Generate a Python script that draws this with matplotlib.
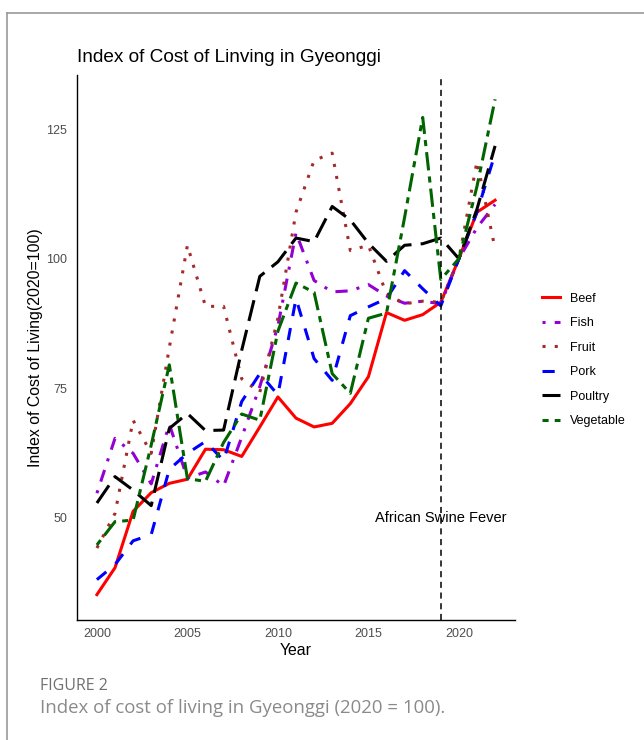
import matplotlib.pyplot as plt
from matplotlib.lines import Line2D

years = list(range(2000, 2023))
beef = [35.1, 40.3, 51.2, 54.8, 56.6, 57.4, 63.2, 63.1, 61.8, 67.5, 73.3, 69.2, 67.5,
        68.2, 72.0, 77.2, 89.6, 88.1, 89.2, 91.6, 100.0, 109.0, 111.3]
fish = [54.7, 65.3, 62.4, 56.5, 68.0, 57.6, 58.8, 56.1, 65.5, 75.3, 87.0, 105.0, 95.8,
        93.6, 93.8, 95.0, 92.8, 91.4, 91.8, 91.3, 100.0, 106.0, 110.5]
fruit = [44.1, 50.8, 68.8, 62.4, 82.8, 102.6, 90.8, 90.8, 76.8, 74.2, 88.5, 109.0, 119.0,
         120.4, 101.6, 102.6, 93.2, 91.3, 91.8, 91.6, 100.0, 118.8, 101.9]
pork = [38.0, 40.9, 45.5, 46.7, 59.3, 62.4, 64.7, 61.0, 72.4, 77.8, 73.7, 92.3, 80.7,
        76.5, 89.0, 90.7, 92.3, 97.7, 94.2, 90.9, 100.0, 109.0, 120.3]
poultry = [52.8, 57.9, 55.3, 52.3, 67.2, 70.1, 66.8, 66.9, 82.3, 96.6, 99.4, 104.0, 103.3,
           110.1, 107.5, 103.0, 99.5, 102.6, 102.9, 104.0, 100.0, 109.6, 121.8]
vegetable = [44.7, 49.2, 49.5, 64.0, 79.5, 57.5, 57.0, 64.5, 70.0, 68.8, 86.0, 95.3, 93.5,
             77.8, 74.0, 88.5, 89.5, 108.0, 127.3, 96.0, 100.0, 114.0, 130.8]

series_names = ["Beef", "Fish", "Fruit", "Pork", "Poultry", "Vegetable"]
x_ticks = [2000, 2005, 2010, 2015, 2020]
y_ticks = [50, 75, 100, 125]
event_year = 2019
event_label = "African Swine Fever"

plt.rcParams["font.family"] = ["Liberation Sans", "DejaVu Sans"]

styles = {
    "Beef": ("#FF0000", "-"),
    "Fish": ("#9400D3", (0, (1, 3, 4, 3))),
    "Fruit": ("#A52A2A", (0, (1, 3))),
    "Pork": ("#0000FF", (0, (4, 4))),
    "Poultry": ("#000000", (0, (7, 3))),
    "Vegetable": ("#006400", (0, (2, 2, 6, 2))),
}
values = [beef, fish, fruit, pork, poultry, vegetable]

fig = plt.figure(figsize=(6.44, 7.40), dpi=100)
ax = fig.add_axes([77 / 644, 1 - 620 / 740, (515 - 77) / 644, (620 - 75) / 740])

lw = 2.2
for name, vals in zip(series_names, values):
    color, ls = styles[name]
    ax.plot(years, vals, color=color, linestyle=ls, linewidth=lw, label=name)

ax.axvline(event_year, color="black", linestyle=(0, (4, 3)), linewidth=1.1)
ax.text(event_year, 50, event_label, ha="center", va="center", fontsize=10.5,
        color="black")

ax.set_xlim(1998.9, 2023.1)
ax.set_ylim(30.2, 135.5)
ax.set_xticks(x_ticks)
ax.set_yticks(y_ticks)
ax.tick_params(length=0, labelsize=9, labelcolor="#4D4D4D")
ax.tick_params(axis="y", pad=7)
ax.tick_params(axis="x", pad=6)
for side in ["top", "right"]:
    ax.spines[side].set_visible(False)
for side in ["left", "bottom"]:
    ax.spines[side].set_linewidth(1.0)
    ax.spines[side].set_color("black")

ax.set_xlabel("Year", fontsize=11.4, labelpad=2)
ax.set_ylabel("Index of Cost of Living(2020=100)", fontsize=11.4, labelpad=2)
fig.text(77 / 644, 1 - 58 / 740, "Index of Cost of Linving in Gyeonggi",
         fontsize=13.7, ha="left", va="center")

handles = [Line2D([], [], color=styles[n][0], linestyle=styles[n][1], linewidth=lw)
           for n in series_names]
fig.legend(handles, series_names, loc="center left",
           bbox_to_anchor=(531 / 644, 1 - 360 / 740), frameon=False, fontsize=9,
           handlelength=1.4, handletextpad=0.8, labelspacing=1.0)

# page frame and figure caption
frame_color = "#9A9A9A"
fig.add_artist(Line2D([7 / 644, 7 / 644], [0, 1 - 13 / 740], color=frame_color,
                      linewidth=1.2, transform=fig.transFigure))
fig.add_artist(Line2D([7 / 644, 1], [1 - 13 / 740, 1 - 13 / 740], color=frame_color,
                      linewidth=1.2, transform=fig.transFigure))
fig.text(40 / 644, 1 - 686 / 740, "FIGURE 2", fontsize=11.5, color="#707070",
         family=["Open Sans", "DejaVu Sans"], ha="left", va="center")
fig.text(40 / 644, 1 - 708 / 740, "Index of cost of living in Gyeonggi (2020 = 100).",
         fontsize=13.4, color="#8A8A8A", family=["Open Sans", "DejaVu Sans"],
         ha="left", va="center")

fig.savefig("out.png", dpi=100)
